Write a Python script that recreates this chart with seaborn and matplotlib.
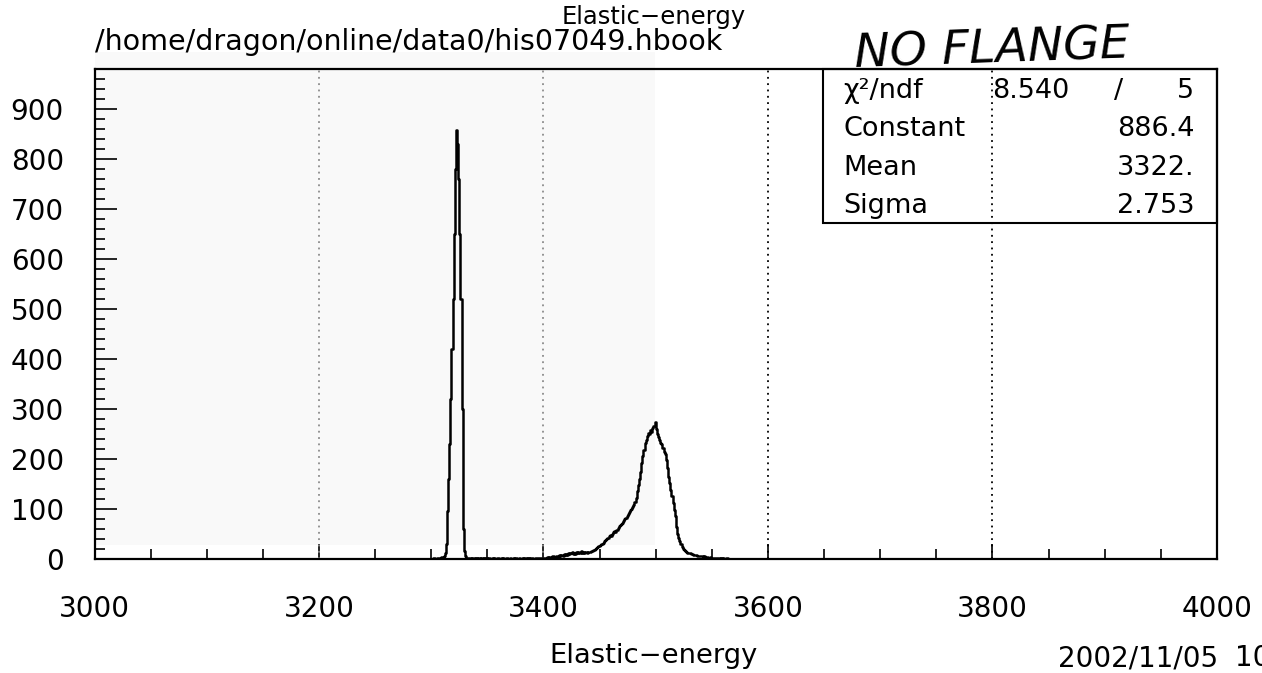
import numpy as np
import pandas as pd
import matplotlib
matplotlib.use("Agg")
import matplotlib.pyplot as plt
from matplotlib.patches import Rectangle
from matplotlib.ticker import MultipleLocator
import seaborn as sns

# ---------------- data ----------------
bin_start = 3300          # left edge of first listed bin
bin_width = 1

# 3300 .. 3339
counts_peak = [0, 0, 1, 0, 0, 1, 1, 2, 2, 3,
               4, 6, 12, 30, 95, 160, 230, 320, 420, 520,
               650, 780, 857, 830, 760, 650, 520, 300, 60, 15,
               5, 2, 1, 2, 1, 0, 1, 2, 1, 0]
# 3340 .. 3399
counts_gap = [1, 0, 1, 0, 2, 1, 0, 1, 0, 1,
              0, 1, 0, 0, 1, 0, 1, 0, 0, 1,
              0, 0, 1, 0, 1, 0, 0, 1, 0, 0,
              1, 0, 0, 1, 0, 1, 0, 0, 1, 0,
              0, 1, 0, 1, 1, 0, 1, 0, 2, 1,
              1, 0, 2, 1, 1, 2, 1, 1, 2, 1]
# 3400 .. 3564
counts_bump = [1, 2, 1, 3, 2, 4, 3, 2, 5, 4,
               4, 6, 5, 3, 7, 6, 8, 5, 9, 7,
               10, 8, 12, 9, 11, 13, 10, 12, 9, 14,
               11, 13, 12, 15, 11, 13, 12, 14, 13, 12,
               14, 13, 16, 15, 18, 17, 20, 22, 24, 26,
               27, 30, 29, 32, 35, 37, 40, 42, 45, 48,
               46, 50, 53, 56, 54, 58, 61, 65, 68, 70,
               71, 75, 79, 82, 85, 90, 94, 97, 100, 104,
               108, 114, 121, 135, 147, 159, 174, 191, 205, 218,
               231, 237, 246, 251, 249, 257, 253, 261, 266, 274,
               259, 249, 243, 237, 232, 230, 222, 214, 210, 198,
               181, 164, 152, 137, 125, 111, 97, 85, 64, 50,
               42, 36, 30, 23, 20, 17, 15, 13, 12, 11,
               12, 10, 9, 8, 8, 7, 7, 6, 6, 5,
               6, 5, 4, 5, 3, 4, 3, 2, 3, 2,
               2, 2, 1, 2, 1, 1, 1, 0, 1, 0,
               1, 0, 0, 1, 0]

x_range = [3000, 4000]
y_range = [0, 980]
x_ticks = [3000, 3200, 3400, 3600, 3800, 4000]
y_ticks = [0, 100, 200, 300, 400, 500, 600, 700, 800, 900]
grid_x = [3200, 3400, 3600, 3800]

title_text = "Elastic\u2212energy"
xlabel_text = "Elastic\u2212energy"
file_text = "/home/dragon/online/data0/his07049.hbook"
note_text = "NO FLANGE"
date_text = "2002/11/05"
time_text = "10"

stat_names = ["\u03c7\u00b2/ndf", "Constant", "Mean", "Sigma"]
chi2_value = "8.540"
ndf_value = "5"
stat_values = ["886.4", "3322.", "2.753"]

# ---------------- figure ----------------
sns.set_style("white")
plt.rcParams['font.family'] = ['DejaVu Sans']
plt.rcParams['axes.unicode_minus'] = True
plt.rcParams['text.color'] = 'black'

fig = plt.figure(figsize=(12.62, 6.73), dpi=100)
fig.patch.set_facecolor("white")

# faint scan shading
fig.add_artist(Rectangle((0.0753, 0.1902), 0.4437, 0.7320, transform=fig.transFigure,
                         facecolor="#f9f9f9", edgecolor="none", zorder=-1))

ax = fig.add_axes([0.0749, 0.1694, 0.8894, 0.7281])
ax.patch.set_alpha(0)

counts = counts_peak + counts_gap + counts_bump
edges = bin_start + bin_width * np.arange(len(counts) + 1)
centers = edges[:-1] + bin_width / 2
df = pd.DataFrame({"energy": centers, "count": counts})

sns.histplot(data=df, x="energy", weights="count", bins=edges.tolist(), element="step",
             fill=False, color="black", linewidth=1.8, ax=ax, zorder=3)

for gx in grid_x:
    ax.axvline(gx, color="#8c8c8c" if gx < 3500 else "black",
               linestyle=(0, (1, 2.5)), linewidth=1.3, zorder=1)

ax.set_xlim(*x_range)
ax.set_ylim(*y_range)
ax.set_xlabel("")
ax.set_ylabel("")
ax.set_xticks(x_ticks)
ax.set_xticklabels([str(t) for t in x_ticks])
ax.set_yticks(y_ticks)
ax.set_yticklabels([str(t) for t in y_ticks])
ax.xaxis.set_minor_locator(MultipleLocator(50))
ax.yaxis.set_minor_locator(MultipleLocator(20))
ax.tick_params(which="both", direction="in", bottom=True, left=True, top=False, right=False,
               width=1.2, color="black", labelcolor="black")
ax.tick_params(axis="x", which="major", length=11, pad=26, labelsize=20)
ax.tick_params(axis="x", which="minor", length=7)
ax.tick_params(axis="y", which="major", length=16, pad=22, labelsize=20)
ax.tick_params(axis="y", which="minor", length=7.5)
for s in ax.spines.values():
    s.set_visible(True)
    s.set_color("black")
    s.set_linewidth(1.6)

# statistics box
ax.add_patch(Rectangle((0.6487, 0.6863), 1 - 0.6487, 1 - 0.6863, transform=ax.transAxes,
                       fill=False, edgecolor="black", linewidth=1.5, clip_on=False, zorder=4))
row_y = [0.8551, 0.7979, 0.7407, 0.6835]
for name, yy in zip(stat_names, row_y):
    fig.text(0.668, yy, name, fontsize=19.5, ha="left", va="baseline")
fig.text(0.786, row_y[0], chi2_value, fontsize=19.5, ha="left", va="baseline")
fig.text(0.886, row_y[0], "/", fontsize=19.5, ha="center", va="baseline")
fig.text(0.9464, row_y[0], ndf_value, fontsize=19.5, ha="right", va="baseline")
for val, yy in zip(stat_values, row_y[1:]):
    fig.text(0.9464, yy, val, fontsize=19.5, ha="right", va="baseline")

# texts around the frame
fig.text(0.518, 0.9640, title_text, fontsize=17.5, ha="center", va="baseline")
fig.text(0.0753, 0.9250, file_text, fontsize=20.5, ha="left", va="baseline")
fig.text(0.5178, 0.0144, xlabel_text, fontsize=19.7, ha="center", va="baseline")
fig.text(0.9649, 0.0104, date_text, fontsize=20, ha="right", va="baseline")
fig.text(0.9786, 0.0104, time_text, fontsize=20, ha="left", va="baseline")
fig.text(0.7868, 0.9064, note_text, fontsize=34, ha="center", va="baseline",
         style="italic", rotation=2, rotation_mode="anchor")

fig.savefig("out.png", dpi=100)
